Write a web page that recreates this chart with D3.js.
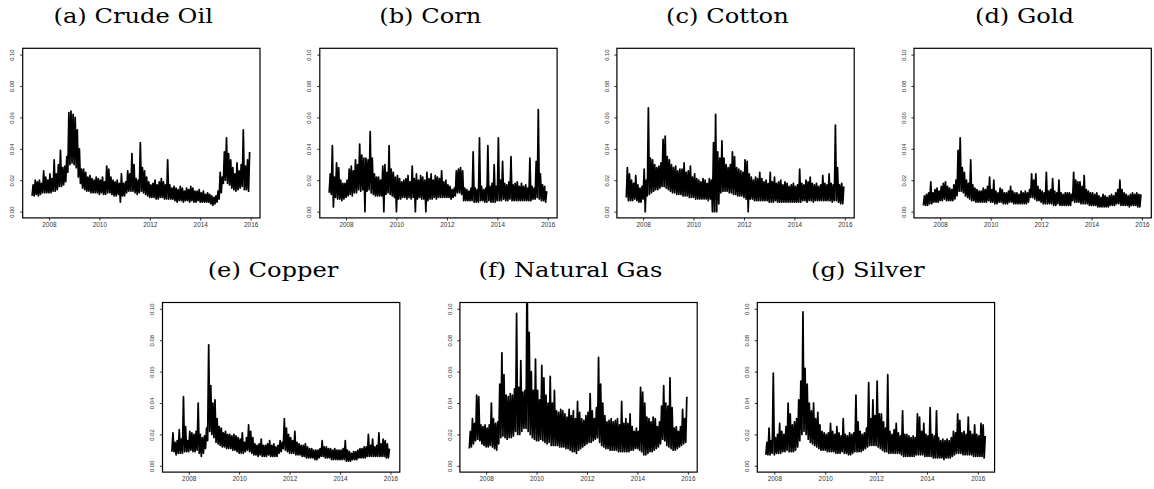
<!DOCTYPE html>
<html><head><meta charset="utf-8">
<script src="https://cdn.jsdelivr.net/npm/d3@7/dist/d3.min.js"></script>
<style>html,body{margin:0;padding:0;background:#fff}svg{display:block}</style>
</head><body>
<script>
// ---------------- data (monthly low / high envelope of daily volatility) ----------------
const titles = ["(a) Crude Oil","(b) Corn","(c) Cotton","(d) Gold","(e) Copper","(f) Natural Gas","(g) Silver"];
const startYears = [2007.333,2007.333,2007.333,2007.333,2007.333,2007.333,2007.667];
const yTicks = [0.00,0.02,0.04,0.06,0.08,0.10];
const yTickLabels = ["0.00","0.02","0.04","0.06","0.08","0.10"];
const xTicks = [2008,2010,2012,2014,2016];
const xTickLabels = ["2008","2010","2012","2014","2016"];

const crudeHi = [0.017,0.020,0.019,0.020,0.018,0.026,0.022,0.020,
 0.024,0.021,0.033,0.024,0.030,0.039,0.028,0.029,0.035,0.063,0.064,0.062,
 0.060,0.052,0.040,0.027,0.027,0.025,0.022,0.023,0.021,0.020,0.022,0.021,
 0.020,0.022,0.019,0.029,0.027,0.022,0.020,0.019,0.020,0.018,0.024,0.018,
 0.019,0.026,0.024,0.037,0.030,0.021,0.020,0.044,0.028,0.026,0.022,0.019,
 0.017,0.018,0.020,0.017,0.019,0.021,0.019,0.017,0.033,0.017,0.015,0.016,
 0.015,0.014,0.016,0.015,0.013,0.015,0.014,0.016,0.015,0.013,0.013,0.014,
 0.012,0.013,0.011,0.012,0.011,0.010,0.009,0.010,0.013,0.025,0.022,0.038,
 0.047,0.037,0.033,0.028,0.024,0.031,0.026,0.030,0.052,0.029,0.033,0.038];
const crudeLo = [0.010,0.010,0.011,0.010,0.011,0.012,0.012,0.012,
 0.012,0.012,0.013,0.013,0.014,0.016,0.016,0.017,0.019,0.025,0.030,0.031,
 0.030,0.028,0.022,0.018,0.015,0.014,0.013,0.013,0.012,0.012,0.012,0.012,
 0.011,0.012,0.011,0.011,0.012,0.012,0.011,0.010,0.010,0.011,0.006,0.010,
 0.010,0.012,0.013,0.013,0.013,0.012,0.011,0.012,0.013,0.012,0.011,0.010,
 0.009,0.009,0.009,0.008,0.008,0.009,0.009,0.008,0.008,0.008,0.008,0.008,
 0.007,0.006,0.007,0.007,0.006,0.007,0.007,0.006,0.007,0.006,0.006,0.007,
 0.006,0.006,0.006,0.006,0.006,0.005,0.004,0.005,0.006,0.008,0.012,0.018,
 0.020,0.018,0.017,0.015,0.014,0.013,0.014,0.015,0.016,0.014,0.014,0.013];

const cornHi = [0.024,0.042,0.022,0.031,0.028,0.020,0.018,0.018,
 0.020,0.027,0.029,0.026,0.033,0.030,0.043,0.036,0.034,0.034,0.033,0.051,
 0.034,0.024,0.022,0.022,0.020,0.029,0.030,0.025,0.042,0.027,0.025,0.022,
 0.023,0.021,0.019,0.020,0.021,0.023,0.019,0.029,0.021,0.024,0.020,0.023,
 0.022,0.020,0.025,0.021,0.024,0.020,0.023,0.022,0.021,0.026,0.019,0.020,
 0.017,0.016,0.014,0.015,0.026,0.027,0.028,0.026,0.015,0.014,0.013,0.015,
 0.038,0.015,0.014,0.047,0.016,0.014,0.015,0.042,0.016,0.018,0.030,0.016,
 0.047,0.020,0.032,0.018,0.017,0.019,0.035,0.017,0.018,0.019,0.016,0.018,
 0.016,0.017,0.015,0.034,0.016,0.015,0.032,0.065,0.024,0.017,0.016,0.013];
const cornLo = [0.012,0.011,0.003,0.009,0.008,0.008,0.007,0.008,
 0.009,0.010,0.011,0.010,0.012,0.012,0.014,0.013,0.014,0.000,0.013,0.014,
 0.012,0.011,0.010,0.010,0.010,0.010,0.000,0.011,0.012,0.011,0.010,0.009,
 0.000,0.008,0.008,0.009,0.009,0.008,0.009,0.008,0.009,0.000,0.008,0.009,
 0.008,0.008,0.000,0.007,0.008,0.008,0.009,0.008,0.009,0.009,0.009,0.009,
 0.009,0.009,0.008,0.009,0.010,0.012,0.012,0.011,0.007,0.007,0.007,0.007,
 0.007,0.006,0.006,0.006,0.007,0.007,0.006,0.006,0.007,0.006,0.006,0.006,
 0.007,0.007,0.007,0.008,0.007,0.007,0.008,0.007,0.007,0.007,0.007,0.007,
 0.007,0.007,0.007,0.007,0.007,0.008,0.008,0.009,0.008,0.007,0.007,0.006];

const cottonHi = [0.028,0.024,0.020,0.018,0.023,0.017,0.015,0.016,
 0.027,0.020,0.066,0.034,0.033,0.030,0.028,0.029,0.031,0.046,0.048,0.035,
 0.033,0.030,0.028,0.029,0.026,0.027,0.027,0.031,0.025,0.026,0.029,0.022,
 0.024,0.021,0.020,0.019,0.021,0.020,0.018,0.021,0.020,0.044,0.062,0.038,
 0.034,0.045,0.034,0.030,0.028,0.030,0.038,0.035,0.028,0.027,0.026,0.025,
 0.033,0.032,0.024,0.022,0.020,0.022,0.021,0.025,0.021,0.019,0.020,0.018,
 0.025,0.019,0.022,0.018,0.019,0.020,0.017,0.019,0.018,0.016,0.017,0.018,
 0.016,0.017,0.027,0.018,0.017,0.020,0.019,0.022,0.018,0.017,0.018,0.016,
 0.017,0.023,0.018,0.017,0.024,0.018,0.017,0.055,0.028,0.017,0.018,0.016];
const cottonLo = [0.009,0.007,0.007,0.007,0.008,0.007,0.006,0.006,
 0.008,0.000,0.010,0.011,0.012,0.013,0.014,0.014,0.015,0.016,0.016,0.015,
 0.014,0.013,0.012,0.012,0.011,0.011,0.011,0.010,0.010,0.010,0.009,0.009,
 0.009,0.008,0.008,0.008,0.008,0.008,0.008,0.007,0.008,0.000,0.000,0.000,
 0.005,0.012,0.013,0.013,0.013,0.012,0.012,0.011,0.011,0.010,0.010,0.010,
 0.009,0.008,0.000,0.008,0.008,0.007,0.007,0.007,0.007,0.007,0.007,0.007,
 0.006,0.006,0.006,0.007,0.006,0.006,0.006,0.006,0.006,0.006,0.006,0.006,
 0.006,0.006,0.006,0.006,0.007,0.007,0.006,0.007,0.007,0.006,0.007,0.007,
 0.007,0.007,0.007,0.007,0.007,0.007,0.006,0.007,0.007,0.006,0.005,0.005];

const goldHi = [0.010,0.011,0.012,0.019,0.012,0.014,0.015,0.013,
 0.016,0.018,0.019,0.016,0.015,0.014,0.017,0.020,0.039,0.047,0.028,0.025,
 0.020,0.018,0.033,0.017,0.015,0.014,0.013,0.013,0.015,0.014,0.016,0.022,
 0.014,0.020,0.013,0.012,0.015,0.014,0.012,0.012,0.013,0.016,0.013,0.012,
 0.012,0.011,0.013,0.012,0.013,0.012,0.014,0.024,0.020,0.024,0.016,0.014,
 0.013,0.012,0.025,0.013,0.014,0.021,0.013,0.012,0.020,0.012,0.011,0.012,
 0.012,0.012,0.011,0.025,0.020,0.019,0.019,0.016,0.023,0.014,0.013,0.012,
 0.012,0.011,0.012,0.010,0.009,0.011,0.010,0.009,0.010,0.011,0.010,0.012,
 0.014,0.020,0.014,0.012,0.011,0.010,0.011,0.012,0.011,0.012,0.011,0.011];
const goldLo = [0.004,0.004,0.004,0.005,0.005,0.006,0.006,0.006,
 0.007,0.007,0.008,0.007,0.007,0.007,0.007,0.008,0.010,0.013,0.013,0.012,
 0.010,0.009,0.008,0.007,0.007,0.006,0.006,0.006,0.006,0.006,0.006,0.007,
 0.006,0.006,0.005,0.005,0.006,0.006,0.005,0.005,0.005,0.006,0.006,0.005,
 0.005,0.005,0.005,0.005,0.005,0.005,0.006,0.009,0.009,0.008,0.007,0.007,
 0.006,0.005,0.005,0.005,0.005,0.005,0.004,0.004,0.005,0.004,0.004,0.004,
 0.004,0.004,0.004,0.007,0.006,0.006,0.006,0.005,0.005,0.005,0.005,0.004,
 0.004,0.004,0.004,0.003,0.003,0.003,0.003,0.003,0.003,0.004,0.004,0.004,
 0.005,0.005,0.004,0.004,0.004,0.004,0.003,0.004,0.004,0.004,0.003,0.003];

const copperHi = [0.021,0.015,0.016,0.023,0.017,0.044,0.025,0.016,
 0.022,0.021,0.020,0.022,0.040,0.020,0.018,0.019,0.024,0.077,0.051,0.040,
 0.042,0.030,0.025,0.024,0.021,0.022,0.020,0.020,0.019,0.020,0.019,0.018,
 0.017,0.021,0.015,0.018,0.026,0.022,0.018,0.014,0.013,0.014,0.017,0.013,
 0.013,0.014,0.016,0.013,0.014,0.012,0.013,0.016,0.015,0.030,0.024,0.020,
 0.018,0.016,0.022,0.015,0.014,0.013,0.013,0.014,0.012,0.011,0.011,0.010,
 0.010,0.010,0.011,0.016,0.012,0.012,0.011,0.011,0.010,0.011,0.010,0.010,
 0.010,0.011,0.016,0.010,0.009,0.008,0.009,0.009,0.010,0.011,0.011,0.012,
 0.012,0.020,0.013,0.017,0.012,0.013,0.021,0.014,0.017,0.016,0.014,0.011];
const copperLo = [0.009,0.009,0.007,0.008,0.008,0.008,0.009,0.009,
 0.009,0.010,0.009,0.009,0.010,0.008,0.006,0.008,0.011,0.016,0.022,0.020,
 0.018,0.015,0.014,0.013,0.012,0.012,0.011,0.011,0.011,0.010,0.010,0.009,
 0.008,0.008,0.008,0.009,0.010,0.009,0.008,0.007,0.007,0.006,0.007,0.006,
 0.006,0.006,0.007,0.006,0.006,0.006,0.006,0.008,0.009,0.011,0.010,0.009,
 0.008,0.008,0.008,0.007,0.007,0.007,0.006,0.006,0.005,0.005,0.005,0.005,
 0.004,0.004,0.005,0.006,0.006,0.005,0.005,0.005,0.004,0.004,0.004,0.004,
 0.004,0.004,0.004,0.003,0.003,0.003,0.004,0.004,0.004,0.005,0.005,0.005,
 0.005,0.006,0.006,0.006,0.006,0.006,0.006,0.006,0.006,0.006,0.005,0.005];

const gasHi = [0.022,0.030,0.027,0.045,0.044,0.026,0.025,0.026,
 0.024,0.026,0.040,0.030,0.027,0.028,0.052,0.072,0.058,0.045,0.044,0.046,
 0.045,0.049,0.097,0.050,0.067,0.047,0.048,0.130,0.085,0.060,0.048,0.068,
 0.048,0.042,0.064,0.056,0.045,0.040,0.057,0.040,0.048,0.035,0.034,0.036,
 0.035,0.033,0.031,0.036,0.032,0.035,0.030,0.041,0.034,0.030,0.029,0.032,
 0.034,0.046,0.035,0.030,0.037,0.069,0.052,0.040,0.032,0.028,0.029,0.030,
 0.028,0.029,0.030,0.026,0.041,0.027,0.030,0.027,0.033,0.025,0.022,0.024,
 0.022,0.050,0.047,0.040,0.031,0.030,0.028,0.031,0.030,0.025,0.028,0.038,
 0.051,0.040,0.038,0.056,0.037,0.024,0.025,0.022,0.025,0.036,0.030,0.044];
const gasLo = [0.011,0.012,0.014,0.016,0.017,0.016,0.014,0.013,
 0.012,0.012,0.013,0.012,0.011,0.010,0.014,0.018,0.019,0.018,0.017,0.018,
 0.018,0.019,0.022,0.020,0.020,0.022,0.024,0.024,0.022,0.020,0.018,0.017,
 0.016,0.016,0.017,0.016,0.015,0.014,0.015,0.013,0.013,0.013,0.013,0.012,
 0.012,0.012,0.011,0.011,0.010,0.009,0.009,0.008,0.010,0.011,0.012,0.013,
 0.014,0.015,0.015,0.016,0.017,0.018,0.015,0.013,0.012,0.011,0.011,0.010,
 0.010,0.010,0.010,0.009,0.009,0.009,0.009,0.009,0.009,0.010,0.010,0.011,
 0.011,0.010,0.009,0.007,0.007,0.008,0.009,0.009,0.010,0.011,0.012,0.014,
 0.017,0.016,0.013,0.012,0.011,0.010,0.010,0.011,0.012,0.013,0.014,0.015];

const silverHi = [0.015,0.024,0.016,0.059,0.018,0.020,0.027,0.022,0.020,0.025,0.040,0.033,
 0.026,0.028,0.030,0.042,0.054,0.098,0.062,0.052,0.040,0.035,0.040,0.030,
 0.034,0.026,0.022,0.021,0.020,0.021,0.027,0.022,0.020,0.025,0.021,0.019,
 0.030,0.020,0.019,0.021,0.020,0.021,0.045,0.028,0.022,0.020,0.021,0.024,
 0.053,0.030,0.042,0.032,0.054,0.033,0.033,0.028,0.024,0.058,0.022,0.020,
 0.023,0.027,0.021,0.019,0.035,0.020,0.020,0.019,0.018,0.019,0.018,0.033,
 0.031,0.022,0.027,0.020,0.019,0.037,0.020,0.019,0.035,0.018,0.016,0.017,
 0.016,0.017,0.016,0.018,0.022,0.021,0.033,0.029,0.021,0.022,0.020,0.031,
 0.022,0.020,0.026,0.020,0.019,0.027,0.026,0.019];
const silverLo = [0.007,0.007,0.007,0.008,0.007,0.008,0.008,0.008,0.009,0.009,0.010,0.009,
 0.009,0.009,0.010,0.012,0.016,0.020,0.022,0.020,0.017,0.015,0.014,0.013,
 0.012,0.011,0.010,0.010,0.010,0.009,0.009,0.009,0.009,0.008,0.008,0.008,
 0.009,0.008,0.008,0.007,0.007,0.008,0.009,0.009,0.009,0.009,0.010,0.011,
 0.012,0.013,0.013,0.013,0.013,0.012,0.011,0.010,0.009,0.009,0.008,0.008,
 0.008,0.008,0.008,0.008,0.007,0.006,0.006,0.006,0.006,0.006,0.006,0.007,
 0.007,0.007,0.007,0.006,0.006,0.006,0.006,0.005,0.005,0.005,0.005,0.005,
 0.004,0.005,0.005,0.005,0.006,0.007,0.008,0.008,0.008,0.007,0.007,0.007,
 0.007,0.007,0.006,0.006,0.006,0.006,0.006,0.005];

const seriesHi = [crudeHi,cornHi,cottonHi,goldHi,copperHi,gasHi,silverHi];
const seriesLo = [crudeLo,cornLo,cottonLo,goldLo,copperLo,gasLo,silverLo];

// ---------------- layout ----------------
const W = 1154, H = 489;
const PW = 237.3, PH = 169.6;
const boxes = [];
for (let i = 0; i < 4; i++) boxes.push({x: 22.7 + i*297.1, y: 48.3});
for (let i = 0; i < 3; i++) boxes.push({x: 162.5 + i*297.4, y: 302.5});
const xDomains = [[2006.96,2016.37],[2006.96,2016.37],[2006.96,2016.37],[2006.96,2016.37],
                  [2006.96,2016.37],[2006.96,2016.37],[2007.33,2016.66]];
const yDomain = [-0.004, 0.104];

const svg = d3.select("body").append("svg").attr("width", W).attr("height", H)
  .attr("viewBox", `0 0 ${W} ${H}`);

titles.forEach((title, k) => {
  const b = boxes[k];
  const g = svg.append("g").attr("transform", `translate(${b.x},${b.y})`);
  const x = d3.scaleLinear().domain(xDomains[k]).range([0, PW]);
  const y = d3.scaleLinear().domain(yDomain).range([PH, 0]);

  const cid = "clip" + k;
  g.append("clipPath").attr("id", cid).append("rect")
    .attr("x", 0).attr("y", 0).attr("width", PW).attr("height", PH);

  // series: zig-zag between monthly low and high
  const pts = [];
  const hi = seriesHi[k], lo = seriesLo[k];
  for (let i = 0; i < hi.length; i++) {
    const t = startYears[k] + i/12;
    pts.push([t, lo[i]]);
    pts.push([t + 1/24, hi[i]]);
  }
  const line = d3.line().x(d => x(d[0])).y(d => y(d[1]));
  g.append("path").attr("d", line(pts)).attr("clip-path", `url(#${cid})`)
    .attr("fill", "none").attr("stroke", "#000").attr("stroke-width", 1.75)
    .attr("stroke-linejoin", "round");

  // axes
  const xa = g.append("g").attr("transform", `translate(0,${PH})`)
    .call(d3.axisBottom(x).tickValues(xTicks).tickFormat((d,i) => xTickLabels[i])
      .tickSize(2.6).tickSizeOuter(0).tickPadding(1.5));
  xa.select(".domain").remove();
  xa.selectAll("line").attr("stroke", "#000").attr("stroke-width", 0.8);
  xa.selectAll("text").attr("font-family", "Liberation Sans, Arial, sans-serif")
    .attr("font-size", 6.4).attr("fill", "#333").attr("dy", "0.71em");

  const ya = g.append("g")
    .call(d3.axisLeft(y).tickValues(yTicks).tickFormat((d,i) => yTickLabels[i])
      .tickSize(2.6).tickSizeOuter(0));
  ya.select(".domain").remove();
  ya.selectAll("line").attr("stroke", "#000").attr("stroke-width", 0.8);
  ya.selectAll("text").attr("font-family", "Liberation Sans, Arial, sans-serif")
    .attr("font-size", 5.9).attr("fill", "#333")
    .attr("x", null).attr("dy", null)
    .attr("text-anchor", "middle")
    .attr("transform", "translate(-8.4,0) rotate(-90)");

  // box
  g.append("rect").attr("x", 0).attr("y", 0).attr("width", PW).attr("height", PH)
    .attr("fill", "none").attr("stroke", "#000").attr("stroke-width", 1.2);

  // title
  g.append("text").attr("class", "title")
    .attr("transform", `translate(110.5,-25.4) scale(1.18,1)`)
    .attr("text-anchor", "middle")
    .attr("font-family", "DejaVu Serif, serif")
    .attr("font-size", 20.5).attr("fill", "#000")
    .text(title);
});
</script>
</body></html>
